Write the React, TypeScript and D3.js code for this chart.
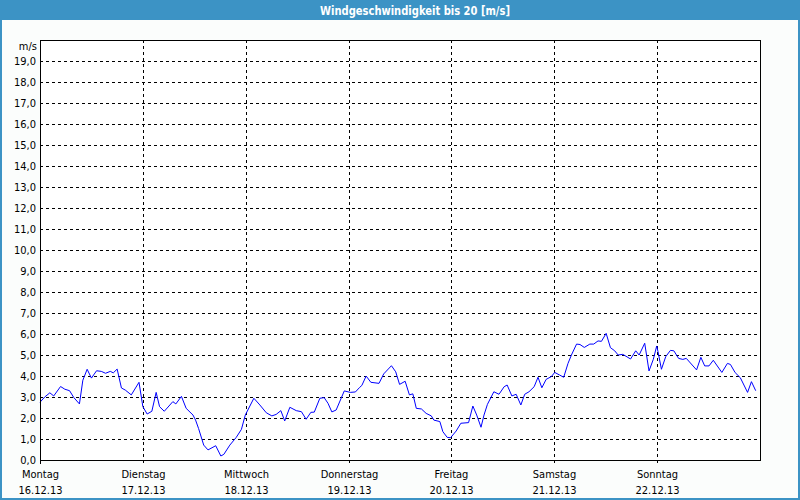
import * as d3 from 'd3';
import { useMemo } from 'react';

// hours since Monday 16.12.13 00:00 and wind speed in m/s
const HOURS = [
  0, 1.1, 2.3, 3.2, 4.8, 5.8, 6.9, 7.9, 9.2, 10, 11, 12, 13.2, 14.3, 15.3, 16.4, 17.1, 18, 19, 19.9,
  21.3, 23.1, 24, 25, 26.1, 27.1, 27.9, 29, 31, 31.7, 33, 34.1, 35.7, 36.3, 37, 38.2, 39.2, 41, 42.2,
  42.9, 44.3, 45.8, 47, 47.9, 49.9, 51.3, 52.8, 54.1, 55.1, 56.2, 57.1, 58.3, 59.8, 61, 62.1, 63.2, 64,
  65.3, 66.3, 67.2, 68.1, 69.1, 71, 72.4, 73.6, 74.6, 75.1, 76.1, 77.2, 79.1, 80.2, 82, 83, 83.9, 85.2,
  86.2, 87, 87.8, 89, 90.1, 91.3, 91.9, 93.3, 94, 95, 95.8, 97.1, 98.2, 100, 101, 101.9, 102.9, 103.6,
  104.4, 105.9, 107.1, 108.3, 109, 110.1, 111.1, 112.2, 113.1, 114.1, 115.3, 116.2, 117.1, 118.1,
  119.3, 120.1, 121.2, 122.2, 123.2, 124, 125.2, 126, 127, 128.3, 129.2, 130.2, 131, 132.1, 133.1,
  134.1, 134.9, 136, 137.8, 139, 139.8, 141.1, 142.1, 143.1, 143.9, 144.2, 145, 146, 147.1, 147.9, 149,
  150, 150.8, 153.2, 154.2, 155.1, 156.1, 157.1, 159.1, 160.4, 161.1, 162.2, 163.4, 165.1, 166, 167,
];
const SPEED = [
  2.75, 3.0, 3.2, 3.05, 3.5, 3.37, 3.3, 2.97, 2.67, 3.8, 4.32, 3.9, 4.25, 4.22, 4.13, 4.22, 4.15, 4.33, 3.43, 3.33,
  3.1, 3.7, 2.54, 2.19, 2.32, 3.22, 2.54, 2.32, 2.78, 2.67, 3.03, 2.46, 2.14, 1.9, 1.5, 0.71, 0.48, 0.68, 0.19,
  0.27, 0.71, 1.08, 1.46, 2.14, 2.94, 2.62, 2.25, 2.1, 2.17, 2.35, 1.86, 2.51, 2.35, 2.3, 1.94, 2.27, 2.28,
  2.94, 2.97, 2.7, 2.29, 2.38, 3.29, 3.22, 3.24, 3.46, 3.55, 4.0, 3.7, 3.65, 4.1, 4.49, 4.2, 3.6, 3.75,
  3.1, 3.15, 2.46, 2.43, 2.22, 2.1, 1.9, 1.83, 1.35, 1.08, 1.06, 1.38, 1.75, 1.78, 2.57, 2.14, 1.56, 2.14,
  2.65, 3.25, 3.13, 3.49, 3.57, 3.05, 3.13, 2.62, 3.13, 3.25, 3.49, 3.94, 3.44, 3.84,
  3.97, 4.17, 4.05, 3.94, 4.6, 5.0, 5.52, 5.5, 5.36, 5.52, 5.52, 5.67, 5.65, 6.03, 5.35,
  5.2, 5.0, 5.03, 4.81, 5.2, 5.0, 5.56, 4.24, 4.79, 5.43, 5.16, 4.32, 4.92, 5.22, 5.2, 4.84,
  4.79, 4.84, 4.29, 4.89, 4.48, 4.48, 4.75, 4.17, 4.6, 4.55, 4.16, 3.92, 3.22, 3.73, 3.3,
];
const DAY_NAMES = ['Montag', 'Dienstag', 'Mittwoch', 'Donnerstag', 'Freitag', 'Samstag', 'Sonntag'];
const DAY_DATES = ['16.12.13', '17.12.13', '18.12.13', '19.12.13', '20.12.13', '21.12.13', '22.12.13'];
const TITLE = 'Windgeschwindigkeit bis 20 [m/s]';
const UNIT = 'm/s';
const Y_MAX = 20;

const WIDTH = 800;
const HEIGHT = 500;
const MARGIN = { top: 40, right: 40, bottom: 40, left: 40 };
const FRAME = '#3c93c5';
const FONT = '"DejaVu Sans Condensed", "Liberation Sans", sans-serif';

const START = new Date(2013, 11, 16);
const END = new Date(2013, 11, 23);

const deComma = d3.formatLocale({ decimal: ',', thousands: '.', grouping: [3], currency: ['', ' €'] }).format('.1f');

export default function App() {
  const boundsWidth = WIDTH - MARGIN.left - MARGIN.right;
  const boundsHeight = HEIGHT - MARGIN.top - MARGIN.bottom;

  const xScale = useMemo(() => d3.scaleTime().domain([START, END]).range([0, boundsWidth]), [boundsWidth]);
  const yScale = useMemo(() => d3.scaleLinear().domain([0, Y_MAX]).range([boundsHeight, 0]), [boundsHeight]);

  const data = HOURS.map((h, i) => ({ t: START.getTime() + h * 3600e3, v: SPEED[i] }));
  const linePath =
    d3
      .line<{ t: number; v: number }>()
      .x((d) => xScale(new Date(d.t)))
      .y((d) => yScale(d.v))(data) ?? '';

  const days = d3.timeDay.range(START, END);
  const yTicks = d3.range(0, Y_MAX);

  return (
    <svg width={WIDTH} height={HEIGHT} style={{ position: 'absolute', left: 0, top: 0 }}>
      <rect x={0} y={0} width={WIDTH} height={HEIGHT} fill={FRAME} />
      <rect x={2} y={20} width={WIDTH - 4} height={HEIGHT - 22} fill="#fbfdfc" />
      <text
        x={415}
        y={15}
        textAnchor="middle"
        fill="#fff"
        fontFamily={FONT}
        fontWeight="bold"
        fontSize={12}
        textLength={190}
        lengthAdjust="spacingAndGlyphs"
      >
        {TITLE}
      </text>

      <g transform={`translate(${MARGIN.left},${MARGIN.top})`}>
        <rect x={0} y={0} width={boundsWidth} height={boundsHeight} fill="#fff" />

        {/* horizontal grid + y labels */}
        {yTicks.map((v) => (
          <g key={v}>
            {v > 0 && (
              <line
                x1={0}
                x2={boundsWidth}
                y1={Math.round(yScale(v)) + 0.5}
                y2={Math.round(yScale(v)) + 0.5}
                stroke="#000"
                strokeDasharray="3,3"
                shapeRendering="crispEdges"
              />
            )}
            <text x={-4} y={yScale(v) + 4} textAnchor="end" fontFamily={FONT} fontSize={11} fill="#000">
              {deComma(v)}
            </text>
          </g>
        ))}
        <text x={-3} y={10} textAnchor="end" fontFamily={FONT} fontSize={11} fill="#000">
          {UNIT}
        </text>

        {/* vertical grid + day labels */}
        {days.map((d, i) => (
          <g key={i} transform={`translate(${Math.round(xScale(d)) + 0.5},0)`}>
            {i > 0 && (
              <line y1={0} y2={boundsHeight + 4} stroke="#000" strokeDasharray="3,3" shapeRendering="crispEdges" />
            )}
            <text y={boundsHeight + 18} textAnchor="middle" fontFamily={FONT} fontSize={11} fill="#000">
              {DAY_NAMES[i]}
            </text>
            <text y={boundsHeight + 34} textAnchor="middle" fontFamily={FONT} fontSize={11} fill="#000">
              {DAY_DATES[i]}
            </text>
          </g>
        ))}

        <path d={linePath} fill="none" stroke="#0000ff" strokeWidth={1} />

        <rect
          x={0.5}
          y={0.5}
          width={boundsWidth}
          height={boundsHeight}
          fill="none"
          stroke="#000"
          shapeRendering="crispEdges"
        />
        <line x1={0.5} x2={0.5} y1={boundsHeight} y2={boundsHeight + 4} stroke="#000" shapeRendering="crispEdges" />
      </g>
    </svg>
  );
}
